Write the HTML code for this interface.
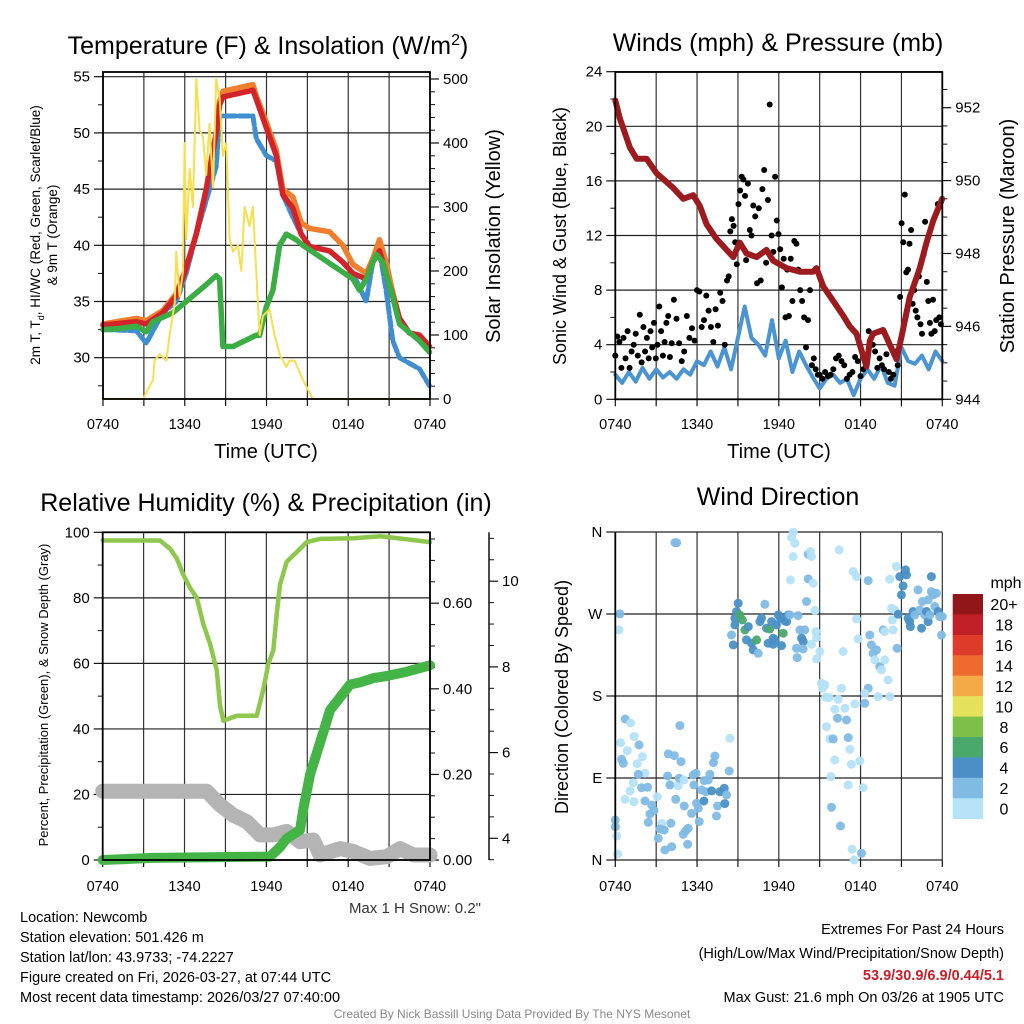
<!DOCTYPE html>
<html><head><meta charset="utf-8"><style>
html,body{margin:0;padding:0;background:#fff;}
svg{display:block;font-family:"Liberation Sans",Arial,sans-serif;}
</style></head><body>
<svg id="c" width="1024" height="1024" viewBox="0 0 1024 1024" xmlns="http://www.w3.org/2000/svg">
<rect width="1024" height="1024" fill="#fff"/>
<text x="268" y="54" font-size="25" text-anchor="middle">Temperature (F) &amp; Insolation (W/m<tspan dy="-9" font-size="16">2</tspan><tspan dy="9">)</tspan></text>
<text x="778" y="51" font-size="25" text-anchor="middle">Winds (mph) &amp; Pressure (mb)</text>
<text x="266" y="511" font-size="25" text-anchor="middle">Relative Humidity (%) &amp; Precipitation (in)</text>
<text x="778" y="505" font-size="25" text-anchor="middle">Wind Direction</text>
<text x="266" y="458" font-size="20" text-anchor="middle">Time (UTC)</text>
<text x="779" y="458" font-size="20" text-anchor="middle">Time (UTC)</text>
<text transform="translate(40,235) rotate(-90)" font-size="13.5" text-anchor="middle">2m T, T<tspan dy="4" font-size="9">d</tspan><tspan dy="-4">, HI/WC (Red, Green, Scarlet/Blue)</tspan></text>
<text transform="translate(57,235) rotate(-90)" font-size="13.5" text-anchor="middle">&amp; 9m T (Orange)</text>
<text transform="translate(500,236) rotate(-90)" font-size="20" text-anchor="middle">Solar Insolation (Yellow)</text>
<text transform="translate(566,236) rotate(-90)" font-size="18" text-anchor="middle">Sonic Wind &amp; Gust (Blue, Black)</text>
<text transform="translate(1014,236) rotate(-90)" font-size="20" text-anchor="middle">Station Pressure (Maroon)</text>
<text transform="translate(48,695) rotate(-90)" font-size="13" text-anchor="middle">Percent, Precipitation (Green), &amp; Snow Depth (Gray)</text>
<text transform="translate(568,697) rotate(-90)" font-size="18" text-anchor="middle">Direction (Colored By Speed)</text>
<text x="481" y="913" font-size="15" text-anchor="end" fill="#333">Max 1 H Snow: 0.2"</text>
<g font-size="14.5" fill="#000">
<text x="20" y="922">Location: Newcomb</text>
<text x="20" y="942">Station elevation: 501.426 m</text>
<text x="20" y="962">Station lat/lon: 43.9733; -74.2227</text>
<text x="20" y="982">Figure created on Fri, 2026-03-27, at 07:44 UTC</text>
<text x="20" y="1002">Most recent data timestamp: 2026/03/27 07:40:00</text>
</g>
<g font-size="14.5" text-anchor="end">
<text x="1004" y="934">Extremes For Past 24 Hours</text>
<text x="1004" y="958">(High/Low/Max Wind/Precipitation/Snow Depth)</text>
<text x="1004" y="980" fill="#c8202a" font-weight="bold">53.9/30.9/6.9/0.44/5.1</text>
<text x="1004" y="1002">Max Gust: 21.6 mph On 03/26 at 1905 UTC</text>
</g>
<text x="512" y="1018" font-size="12" fill="#888" text-anchor="middle">Created By Nick Bassill Using Data Provided By The NYS Mesonet</text>
</svg>
<script>
// ---------- DATA ----------
const xTickLabels = ["0740","1340","1940","0140","0740"];
// Panel 1 (hours since 0740)
const tempT = [0,2.44,3.18,4.4,5.38,6.11,6.85,7.58,8.31,8.56,8.8,11,11.25,11.98,12.71,13.2,13.94,14.55,15.16,16.63,17.6,18.34,19.32,19.8,20.29,20.78,21.27,21.76,22.49,23.23,23.96];
const airTemp = [32.9,33.2,33,34,35.5,38,41,45,50,52.5,53.2,53.8,53,50.5,48,44.5,43.3,41,39.9,39.5,38.5,37.5,37,38.5,39.5,37.5,35.5,33.5,32.2,32,31];
const temp9m = [33,33.5,33.3,34.2,35.7,38,41,45,50,52.8,53.7,54.3,53.3,51,48.5,45,44.3,42,41.5,41.2,40,38.3,37.5,38.8,40.5,38.5,35.8,33.5,32.2,32,31];
const hiwc = [32.5,32.4,31.3,34,35,37.5,41,44,47,51.5,51.5,51.5,49.5,48,47.5,44.5,42.5,41,39.9,39.5,38.5,37.5,35,38.5,39.5,36,31.5,30,29.5,29,27.5];
const dewT = [0,1.22,2.44,3.18,3.67,5.13,6.11,7.58,8.31,8.56,8.8,9.54,11.25,11.49,11.98,12.47,12.96,13.45,14.18,14.67,15.89,18.34,18.83,19.32,20.05,20.54,21.03,21.76,23.23,23.96];
const dewpoint = [32.5,32.6,32.8,32.3,33.2,34,35,36.5,37.3,37,31,31,32,32,34.5,36,40,41,40.5,40,39,37,36,37,39.2,38.5,36.5,33,31.5,30.5];
const solarT = [0,2.93,3.67,3.79,4.16,4.65,4.89,5.26,5.38,5.62,5.87,5.99,6.11,6.36,6.6,6.85,7.09,7.33,7.58,7.82,8.07,8.31,8.56,8.8,9.05,9.29,9.54,9.9,10.15,10.39,10.76,11.0,11.37,11.49,11.74,12.23,12.59,12.96,13.45,13.69,14.06,14.67,15.4,24];
const solar = [0,0,30,60,70,60,100,150,230,160,200,400,250,360,300,500,420,410,350,430,330,500,470,380,400,250,230,240,200,300,270,300,150,100,130,140,100,70,50,60,60,30,0,0];
// Panel 2
const sonicT = [0,0.5,1,1.5,2,2.5,3,3.5,4,4.5,5,5.5,6,6.5,7,7.5,8,8.5,9,9.5,10,10.5,11,11.5,12,12.5,13,13.5,14,14.5,15,15.5,16,16.5,17,17.5,18,18.5,19,19.5,20,20.5,21,21.5,22,22.5,23,23.5,24];
const sonic = [1.8,1.2,2.0,1.3,2.3,1.5,2.2,1.6,2.0,1.5,2.2,1.8,2.8,2.5,3.5,2.4,3.8,2.2,4.5,6.8,4.5,4.0,3.2,5.8,3.0,4.3,2.0,3.5,2.5,1.6,0.8,1.5,1.8,1.2,1.5,0.3,1.5,2.2,1.5,2.5,1.2,1.0,3.8,2.8,2.6,3.2,2.2,3.5,2.8];
const gustT = [0,0.15,0.3,0.45,0.6,0.75,0.9,1.05,1.2,1.35,1.5,1.65,
 1.8,1.93,2.06,2.19,2.32,2.45,2.58,2.71,2.84,2.97,3.1,3.23,3.36,3.49,3.62,3.75,3.88,4.01,4.14,
 4.3,4.49,4.68,4.87,5.06,5.25,5.44,5.63,5.82,
 6,6.17,6.34,6.51,6.68,6.85,7.02,7.19,7.36,7.53,7.7,7.87,8.04,
 8.2,8.32,8.44,8.56,8.68,8.8,8.92,9.04,9.16,9.28,9.4,9.52,
 9.6,9.73,9.87,10,10.13,10.27,10.4,10.53,10.67,10.8,10.93,11.07,11.2,11.33,11.47,
 11.6,11.73,11.85,11.98,12.1,12.23,12.36,12.49,12.62,12.74,12.87,
 13,13.14,13.29,13.43,13.57,13.71,13.86,14,14.14,14.29,14.43,14.57,14.71,14.86,
 15,15.2,15.4,15.6,15.8,16,16.2,16.4,16.6,16.8,17,17.2,17.4,17.6,17.8,18,18.2,18.4,18.6,
 18.9,19.07,19.23,19.4,19.57,19.73,19.9,20.07,20.23,20.4,20.57,20.73,
 20.9,21.01,21.13,21.25,21.36,21.48,21.59,21.71,21.82,21.94,22.05,22.17,22.28,22.4,22.51,22.63,22.74,22.86,22.97,23.09,23.2,23.32,23.44,23.55,23.67,23.78,23.9];
const gust = [3.2,4.6,4.2,2.3,4.5,3.0,5.0,2.3,3.5,4.0,4.8,3.2,
 6.2,2.7,5.3,3.5,4.5,3.0,5.0,3.8,5.6,3.0,4.0,6.8,5.0,3.2,4.2,5.6,6.1,3.1,4.1,
 7.3,5.9,4.1,2.8,3.5,6.1,4.5,5.2,4.3,
 8.0,7.9,5.3,5.8,7.6,6.5,5.3,4.2,6.6,5.4,7.8,7.2,4.0,
 8.7,9.0,12.3,13.2,12.7,11.5,9.9,14.3,15.3,16.3,16.1,14.9,
 10.2,15.8,12.4,12.0,14.2,13.4,8.5,14.0,8.7,15.4,16.8,10.0,14.6,21.6,12.0,
 10.8,16.3,13.1,12.1,11.0,8.2,10.3,6.0,9.5,6.1,10.3,
 7.2,11.6,11.4,9.5,8.0,7.2,6.0,3.8,5.8,8.0,2.5,3.0,2.2,1.8,
 1.8,1.5,2.0,1.7,1.8,2.2,3.0,3.2,2.8,2.5,1.5,1.8,2.0,3.1,2.8,1.7,2.2,2.5,5.0,
 4.0,3.5,2.3,3.0,2.5,2.2,3.3,2.0,1.5,1.8,3.5,2.5,
 7.5,12.9,11.5,15.0,9.3,9.5,11.4,12.4,7.0,8.0,6.5,6.0,9.0,5.5,4.8,10.6,13.0,8.6,7.2,5.6,4.8,7.3,5.0,5.8,14.3,6.0,5.5];
const presT = [0,0.34,1.08,1.56,2.3,3.03,4.25,4.99,5.72,6.21,6.7,7.43,8.17,8.66,9.14,9.63,10.37,11.1,11.59,12.57,13.55,14.52,14.77,15.26,15.99,16.72,17.21,17.7,18.19,18.44,18.68,18.92,19.66,20.15,20.64,21.0,21.61,22.35,22.84,23.33,23.99];
const pressure = [952.2,951.7,950.9,950.6,950.6,950.2,949.8,949.5,949.6,949.3,948.8,948.4,948.1,947.9,948.3,948,947.9,948.1,947.8,947.6,947.5,947.5,947.6,947.1,946.7,946.3,946,945.8,945.2,944.9,945.6,945.8,945.9,945.5,945.1,945.7,946.8,947.6,948.3,948.9,949.5];
// Panel 3
const rhT = [0,4.2,4.94,5.43,5.92,6.41,6.9,7.38,7.87,8.36,8.61,8.85,9.83,11.05,11.29,11.78,12.15,12.51,12.76,13,13.49,14.23,14.96,15.94,18.38,20.34,22.05,24];
const rh = [97.5,97.5,95,92,87,83,80,72,66,58,47,42.5,44,44,44,52,60,64,75,84,91,94,97,98,98.2,98.8,98,97];
const precipT = [0,3.7,12.27,13.0,13.49,14.47,14.72,15.21,15.7,16.19,16.67,17.4,18.14,18.87,19.85,20.83,22.29,24];
const precip = [0,0.005,0.008,0.03,0.05,0.07,0.12,0.2,0.25,0.3,0.35,0.38,0.41,0.415,0.425,0.43,0.44,0.455];
const snowT = [0,7.63,8.6,9.58,10.56,11.54,12.52,13.49,14.47,15.45,15.94,17.4,18.38,19.6,20.83,21.81,22.78,24];
const snow = [5.1,5.1,4.78,4.54,4.39,4.08,4.08,4.16,3.92,3.96,3.61,3.76,3.69,3.53,3.57,3.76,3.61,3.61];
// Panel 4 wind direction (hour, degrees, speed mph)
const dirT = [0.34,0.27,0,0,0.1,0.17,0.73,1.12,0.39,0.88,0.46,0.59,1.39,1.74,1.61,2.0,2.18,1.69,1.32,1.93,1.08,0.71,1.37,2.18,2.67,2.37,2.54,2.84,2.42,3.08,3.15,3.4,3.28,3.59,3.64,4.13,4.08,3.89,4.33,4.82,4.74,3.84,4.01,4.62,4.69,5.04,4.43,5.06,4.99,5.16,5.35,5.31,5.6,5.72,5.92,5.77,5.97,6.09,6.16,6.33,6.53,6.82,6.65,6.5,6.94,7.31,7.21,7.07,7.43,7.51,7.68,8.0,8.17,8.04,8.36,8.41,4.38,4.5,
9.02,8.9,8.78,8.78,8.53,8.66,9.14,9.32,9.51,9.76,9.63,10,10.12,10.37,10.49,10.61,10.73,10.98,11.1,11.34,11.47,11.22,11.59,11.59,11.71,11.83,11.96,12.13,12.32,12.44,12.69,12.57,12.2,12.81,13.3,13.42,13.35,13.55,13.91,13.67,13.79,13.79,14.03,14.16,14.16,14.33,14.4,14.52,14.65,14.72,14.77,14.4,13.06,13.18,13.06,12.93,12.86,
15.01,14.77,15.13,15.38,15.21,15.45,15.7,16.11,16.31,16.36,16.43,16.72,16.6,16.85,16.97,15.5,15.75,15.99,16.11,15.82,15.87,16.53,17.09,17.21,17.33,17.09,17.95,18.19,17.38,18.07,17.53,17.46,17.7,17.7,17.82,17.58,18.31,18.56,18.56,18.31,18.68,18.8,18.92,19.05,19.17,19.41,19.54,19.78,20.02,19.29,20.15,19.66,19.78,20.39,20.34,20.15,20.64,20.51,20.27,20.76,20.68,20.88,21,21.12,21.3,21.37,21.49,21.61,21.66,21.86,21.98,22.22,22.35,22.54,22.47,22.71,22.84,22.96,22.96,23.2,23.2,23.33,23.45,23.57,23.69,23.81,23.94,23.08,24];
const dirDeg = [270.1,252.5,43.9,36.6,26.4,6.6,154.8,150.4,128.8,120,110.5,106.1,135.4,126.3,105.8,113.5,95.2,94.1,84.9,79.4,75.8,66.6,64,64.8,60.4,79.8,50.5,54.2,41.4,69.5,23.8,40.3,34,32.9,11,14.6,40.3,116.4,114.6,108,147.5,92.2,82.4,81.6,89.7,87.8,66.6,59.3,28.2,31.8,34.8,17.2,51.2,93.3,95.2,82.4,62.2,56.7,42.1,76.9,87.1,87.8,75,64.8,94.1,114.2,106.9,75.8,48.3,59.3,75,78.7,71.4,61.9,97.7,133.6,348.4,348.1,
281.8,272.7,265.4,258,247,236.1,269,263.5,252.5,256.2,241.6,237.9,230.6,241.6,226.9,261.7,265.4,280.7,254.4,253.6,261.7,237.9,236.8,243.4,241.6,258,269,265.4,248.9,262.4,269,261.7,235.3,269,232.4,268.3,222.2,252.5,252.5,243.4,239.7,231.7,283.7,308.5,335.6,338.6,333.1,303.8,273.8,250.7,244.1,236.8,333.1,347.7,359.8,353.9,307.4,
228.8,220.7,194,192.2,188.5,178.6,178.2,165.4,155.6,176.4,340.4,228.8,188.5,166.5,153.7,146.4,132.9,132.9,109.8,91.5,57.8,37.3,134.3,121.5,105,82.4,108.7,79.4,11.7,7.3,0,316.6,311.1,264.6,242.7,171.3,172,306.7,188.5,183,247,236.1,226.9,219.6,230.6,212.3,208.6,219.6,197.6,179.3,179.3,252.5,250.7,252.5,263.5,308.2,322.1,274.5,276.3,269.7,232.4,311.1,291,300.9,318.4,312.9,265.4,261.7,256.2,272.7,269,296.5,274.5,283.7,254.4,269,272.7,261.7,285.5,311.1,294.6,291,278.2,292.8,272.7,267.2,247,269,267.2];
const dirSpd = [3,1,3,3,1,1,3,1,1,1,3,3,1,3,1,1,1,3,1,3,1,1,1,3,3,3,3,3,3,1,3,1,3,3,3,3,3,3,3,3,3,3,3,1,3,1,3,3,3,3,3,3,3,3,3,3,3,3,3,3,3,3,3,5,3,3,3,5,3,3,5,5,3,5,3,1,3,3,
5,5,5,5,3,5,7,7,7,5,5,5,5,7,3,5,5,3,5,7,5,5,5,5,5,5,5,5,7,5,5,5,5,3,3,3,3,3,3,5,5,3,3,3,3,1,1,1,1,1,1,1,1,1,1,1,1,
1,1,1,1,1,1,1,1,3,1,1,1,1,1,3,1,1,3,1,1,3,3,3,1,1,1,1,1,1,3,1,1,1,1,1,1,3,3,3,1,3,3,3,1,3,3,1,1,1,1,1,3,1,1,1,1,1,1,1,5,3,5,5,5,5,5,5,5,5,5,3,3,3,3,5,3,5,5,3,5,3,3,3,3,5,3,3,3,3];
const speedBins = ["0","2","4","6","8","10","12","14","16","18","20+"];
const speedColors = ["#b5e2f7","#80bbe4","#4a90c6","#4aa86c","#7cc04a","#e5e15a","#f5aa48","#ef6a2e","#df3b2b","#c11f27","#901619"];

// ---------- DRAWING ----------
const svg = document.getElementById('c');
const NS = 'http://www.w3.org/2000/svg';
function mk(tag, attrs, parent){ const e=document.createElementNS(NS,tag); for(const k in attrs) e.setAttribute(k,attrs[k]); (parent||svg).appendChild(e); return e; }
function xs(P,h){ return P.x0 + h/24*(P.x1-P.x0); }
const P1={x0:103,x1:430,top:72,bot:399}; const y1L=v=>76.7+(55-v)*11.24; const y1R=v=>399-v*0.64;
const P2={x0:615.3,x1:942.3,top:72,bot:399.3}; const y2L=v=>399.3-v*13.65; const y2R=v=>399.3-(v-944)*36.45;
const P3={x0:102.7,x1:430,top:532.3,bot:860}; const y3L=v=>860-v*3.277; const y3P=v=>860-v*428; const y3S=v=>838.3-(v-4)*42.85;
const P4={x0:615.3,x1:942.3,top:532.3,bot:860}; const y4D=v=>860-v*0.9111;

function hline(x0,x1,y,w,c,g){ return mk('line',{x1:x0,x2:x1,y1:y,y2:y,stroke:c||'#111','stroke-width':w||1},g); }
function vline(x,y0,y1,w,c,g){ return mk('line',{x1:x,x2:x,y1:y0,y2:y1,stroke:c||'#111','stroke-width':w||1},g); }
function txt(x,y,s,size,anchor,g){ const t=mk('text',{x:x,y:y,'font-size':size,'text-anchor':anchor||'middle'},g); t.textContent=s; return t; }

function xAxis(P,name,labY){
  const g=mk('g',{});
  
  
  for(let i=0;i<=8;i++){ const x=xs(P,i*3); vline(x,P.top,P.bot,1.2,'#333',g); vline(x,P.bot,P.bot+7,1.2,'#111',g); }
  xTickLabels.forEach((l,i)=>{ const t=txt(xs(P,i*6),labY,l,14.5,'middle',g);
    
     });
}
function yAxis(P,side,vals,labels,fy,minors,name,grid,axX){
  const g=mk('g',{});
  
  
  const ax = axX!==undefined?axX:(side==='l'?P.x0:P.x1); const d= side==='l'?-1:1;
  vals.forEach((v,i)=>{ const y=fy(v);
    if(grid) hline(P.x0,P.x1,y,1.2,'#222',g);
    hline(ax,ax+d*9,y,1.2,'#111',g);
    const t=txt(ax+d*13,y+5,labels[i],15,side==='l'?'end':'start',g);
    
     });
  minors.forEach(v=>{ hline(ax,ax+d*5,fy(v),1,'#111',g); });
}
function path(P,T,V,fy,attrs,name){
  let d=''; T.forEach((t,i)=>{ d+=(i?'L':'M')+xs(P,t).toFixed(1)+','+fy(V[i]).toFixed(1); });
  const p=mk('path',Object.assign({d:d,fill:'none','stroke-linejoin':'round','stroke-linecap':'round'},attrs));
  
  
  return p;
}
function range(a,b,s){ const r=[]; for(let v=a;v<=b+1e-9;v+=s) r.push(+v.toFixed(3)); return r; }

// Panel 1
xAxis(P1,'temp-x-axis',429);
yAxis(P1,'l',[30,35,40,45,50,55],['30','35','40','45','50','55'],y1L,range(27.5,52.5,5),'temp-y-axis',true);
yAxis(P1,'r',[0,100,200,300,400,500],['0','100','200','300','400','500'],y1R,range(20,480,20).filter(v=>v%100),'solar-y-axis',false);
path(P1,tempT,temp9m,y1L,{stroke:'#f07f2d','stroke-width':5.5},'temp-9m-line');
path(P1,tempT,hiwc,y1L,{stroke:'#3f8fd0','stroke-width':5,'stroke-dasharray':'10 3'},'heat-index-line');
path(P1,tempT,airTemp,y1L,{stroke:'#d2222a','stroke-width':5.5},'temp-2m-line');
path(P1,dewT,dewpoint,y1L,{stroke:'#3aae44','stroke-width':5.5},'dewpoint-line');
path(P1,solarT,solar,y1R,{stroke:'#f7df4d','stroke-width':2},'solar-line');
mk('rect',{x:P1.x0,y:P1.top,width:P1.x1-P1.x0,height:P1.bot-P1.top,fill:'none',stroke:'#000','stroke-width':1.8});

// Panel 2
xAxis(P2,'wind-x-axis',429);
yAxis(P2,'l',[0,4,8,12,16,20,24],['0','4','8','12','16','20','24'],y2L,range(2,22,4),'wind-y-axis',true);
yAxis(P2,'r',[944,946,948,950,952],['944','946','948','950','952'],y2R,range(944.5,952.5,0.5).filter(v=>v%2),'pressure-y-axis',false);
path(P2,sonicT,sonic,y2L,{stroke:'#4a94d2','stroke-width':4},'sonic-wind-line');
gustT.forEach((t,i)=>{ const c=mk('circle',{cx:xs(P2,t).toFixed(1),cy:y2L(gust[i]).toFixed(1),r:3,fill:'#000'});
  
   });
path(P2,presT,pressure,y2R,{stroke:'#9b1b1e','stroke-width':6},'pressure-line');
mk('rect',{x:P2.x0,y:P2.top,width:P2.x1-P2.x0,height:P2.bot-P2.top,fill:'none',stroke:'#000','stroke-width':1.8});

// Panel 3
xAxis(P3,'rh-x-axis',891);
yAxis(P3,'l',[0,20,40,60,80,100],['0','20','40','60','80','100'],y3L,range(10,90,20),'rh-y-axis',true);
yAxis(P3,'r',[0,0.2,0.4,0.6],['0.00','0.20','0.40','0.60'],y3P,range(0.05,0.75,0.05).filter(v=>Math.abs(v*5-Math.round(v*5))>1e-6),'precip-y-axis',false);
yAxis(P3,'r',[4,6,8,10],['4','6','8','10'],y3S,range(3.5,11,0.5).filter(v=>v%2),'snow-y-axis',false,489);
vline(489,532.3,860,1.5,'#111');
path(P3,snowT,snow,y3S,{stroke:'#b4b4b4','stroke-width':15},'snow-depth-line');
path(P3,rhT,rh,y3L,{stroke:'#8dc84d','stroke-width':4.5},'rh-line');
path(P3,precipT,precip,y3P,{stroke:'#45b447','stroke-width':10},'precip-line');
mk('rect',{x:P3.x0,y:P3.top,width:P3.x1-P3.x0,height:P3.bot-P3.top,fill:'none',stroke:'#000','stroke-width':1.8});

// Panel 4
xAxis(P4,'direction-x-axis',891);
yAxis(P4,'l',[0,90,180,270,360],['N','E','S','W','N'],y4D,[],'direction-y-axis',true);
dirT.forEach((t,i)=>{ const b=Math.min(10,Math.floor(dirSpd[i]/2));
  const c=mk('circle',{cx:xs(P4,t).toFixed(1),cy:y4D(dirDeg[i]).toFixed(1),r:4.5,fill:speedColors[b],'fill-opacity':0.95});
  
   });
vline(P4.x0,P4.top,P4.bot,1.8,'#000');
// colorbar
const cb=mk('g',{});


const cbTop=594, cbH=224.7/11;
speedBins.forEach((l,i)=>{ const k=10-i; const y=cbTop+i*cbH;
  mk('rect',{x:952.7,y:y.toFixed(1),width:30.3,height:(cbH+0.4).toFixed(1),fill:speedColors[k]},cb);
  const t=txt(1004,y+cbH/2+6,speedBins[k],16,'middle',cb);
  
   });
const u=txt(1006,588,'mph',16,'middle',cb);


</script>
</body></html>
